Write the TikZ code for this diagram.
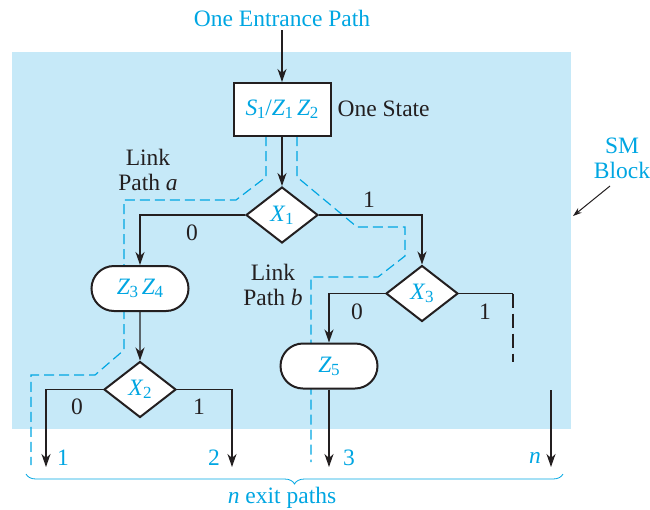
\documentclass[tikz,border=0pt]{standalone}
\usepackage{fontspec}
\setmainfont{Liberation Serif}
\usepackage{tikz}
\usetikzlibrary{shapes.geometric,shapes.misc,arrows.meta,decorations.pathreplacing}
\definecolor{smcyan}{RGB}{0,166,226}
\definecolor{smback}{RGB}{198,233,248}
\definecolor{smline}{RGB}{35,31,32}
\newcommand{\smvar}[2]{\textit{#1}\kern-0.5pt\raisebox{-0.3ex}{\fontsize{17}{17}\selectfont #2}}

\begin{document}
\begin{tikzpicture}[x=1pt, y=-1pt, >={Stealth[length=13pt,width=9pt,inset=4pt]},
    font=\fontsize{23.5}{25}\selectfont,
    every path/.style={color=smline, line width=1.3pt},
    statebox/.style={draw, rectangle, fill=white, line width=2pt, minimum width=97pt, minimum height=53pt, inner sep=0pt, text=smcyan},
    condbox/.style={draw, rounded rectangle, fill=white, line width=2pt, minimum width=97pt, minimum height=45pt, inner sep=0pt, text=smcyan},
    decbox/.style={draw, diamond, fill=white, line width=2pt, aspect=1.3, minimum width=72pt, minimum height=56pt, inner sep=0pt, text=smcyan},
    linkpath/.style={smcyan, line width=1.2pt, dash pattern=on 10pt off 5pt},
    lbl/.style={text=smline, inner sep=0pt},
    exitlbl/.style={text=smcyan, inner sep=0pt}]
        \useasboundingbox (0,0) rectangle (650,509);
        % SM block background
        \fill[smback] (12,52) rectangle (571,429);

        % Link paths
        \draw[linkpath] (266,136) -- (266,177) -- (236,200) -- (124,200) -- (124,350) -- (95,375) -- (31,375) -- (31,465);
        \draw[linkpath] (297,136) -- (297,177) -- (357,227) -- (405,227) -- (405,256) -- (378,277) -- (311,277) -- (311,462);

        % Entrance and state
        \node[text=smcyan] (entr) at (282,18) {One Entrance Path};
        \node[statebox] (state) at (282,109.5) {\smvar{S}{1}/\smvar{Z}{1}\,\smvar{Z}{2}};
        \node[lbl, anchor=west] (onest) at (337,109) {One State};
        \draw[->] (entr) -- (state);

        % Decisions and conditional outputs
        \node[decbox] (x1) at (282,215) {\smvar{X}{1}};
        \node[condbox] (z34) at (140,288.5) {\smvar{Z}{3}\,\smvar{Z}{4}};
        \node[decbox] (x2) at (140,389.5) {\smvar{X}{2}};
        \node[decbox] (x3) at (422,293.5) {\smvar{X}{3}};
        \node[condbox] (z5) at (329,366) {\smvar{Z}{5}};

        % Exit points
        \coordinate (e1) at (46,467);
        \coordinate (e2) at (232,467);
        \coordinate (e3) at (329,467);
        \coordinate (nb) at (513,293.5);
        \coordinate (nbe) at (513,362);
        \coordinate (nt) at (551,390);
        \coordinate (en) at (551,467);

        \draw[->] (state) -- (x1);
        \draw[->] (x1.west) -| (z34.north);
        \draw[->] (x1.east) -| (x3.north);
        \draw[->] (z34) -- (x2);
        \draw[->] (x2.west) -| (e1);
        \draw[->] (x2.east) -| (e2);
        \draw[->] (x3.west) -| (z5.north);
        \draw[->] (z5) -- (e3);
        \draw (x3.east) -- (nb);
        \draw[dash pattern=on 14pt off 6pt] (nb) -- (nbe);
        \draw[->] (nt) -- (en);

        % Branch labels
        \node[lbl] (l0a) at (192,233) {0};
        \node[lbl] (l1a) at (369,200) {1};
        \node[lbl] (l0b) at (77,407) {0};
        \node[lbl] (l1b) at (199,407) {1};
        \node[lbl] (l0c) at (357,312) {0};
        \node[lbl] (l1c) at (485,312) {1};
        \node[lbl, align=center] (linka) at (148,170) {Link\\Path \textit{a}};
        \node[lbl, align=center] (linkb) at (273,285) {Link\\Path \textit{b}};

        % Exit labels
        \node[exitlbl] (x1lbl) at (63,458) {1};
        \node[exitlbl] (x2lbl) at (214,458) {2};
        \node[exitlbl] (x3lbl) at (349,458) {3};
        \node[exitlbl] (xnlbl) at (535,458) {\textit{n}};

        % SM block label
        \node[exitlbl, align=center] (smblk) at (622,158) {SM\\Block};
        \coordinate (smtip) at (573,216);
        \draw[->, line width=1pt, >={Stealth[length=9pt,width=6pt,inset=3pt]}] (610,186) -- (smtip);

        % Exit paths brace
        \draw[smcyan, line width=0.8pt, decorate, decoration={brace, mirror, amplitude=10pt}] (26,474) -- (563,474);
        \node[exitlbl] (nexit) at (282,498) {\textit{n} exit paths};
    \end{tikzpicture}
\end{document}
